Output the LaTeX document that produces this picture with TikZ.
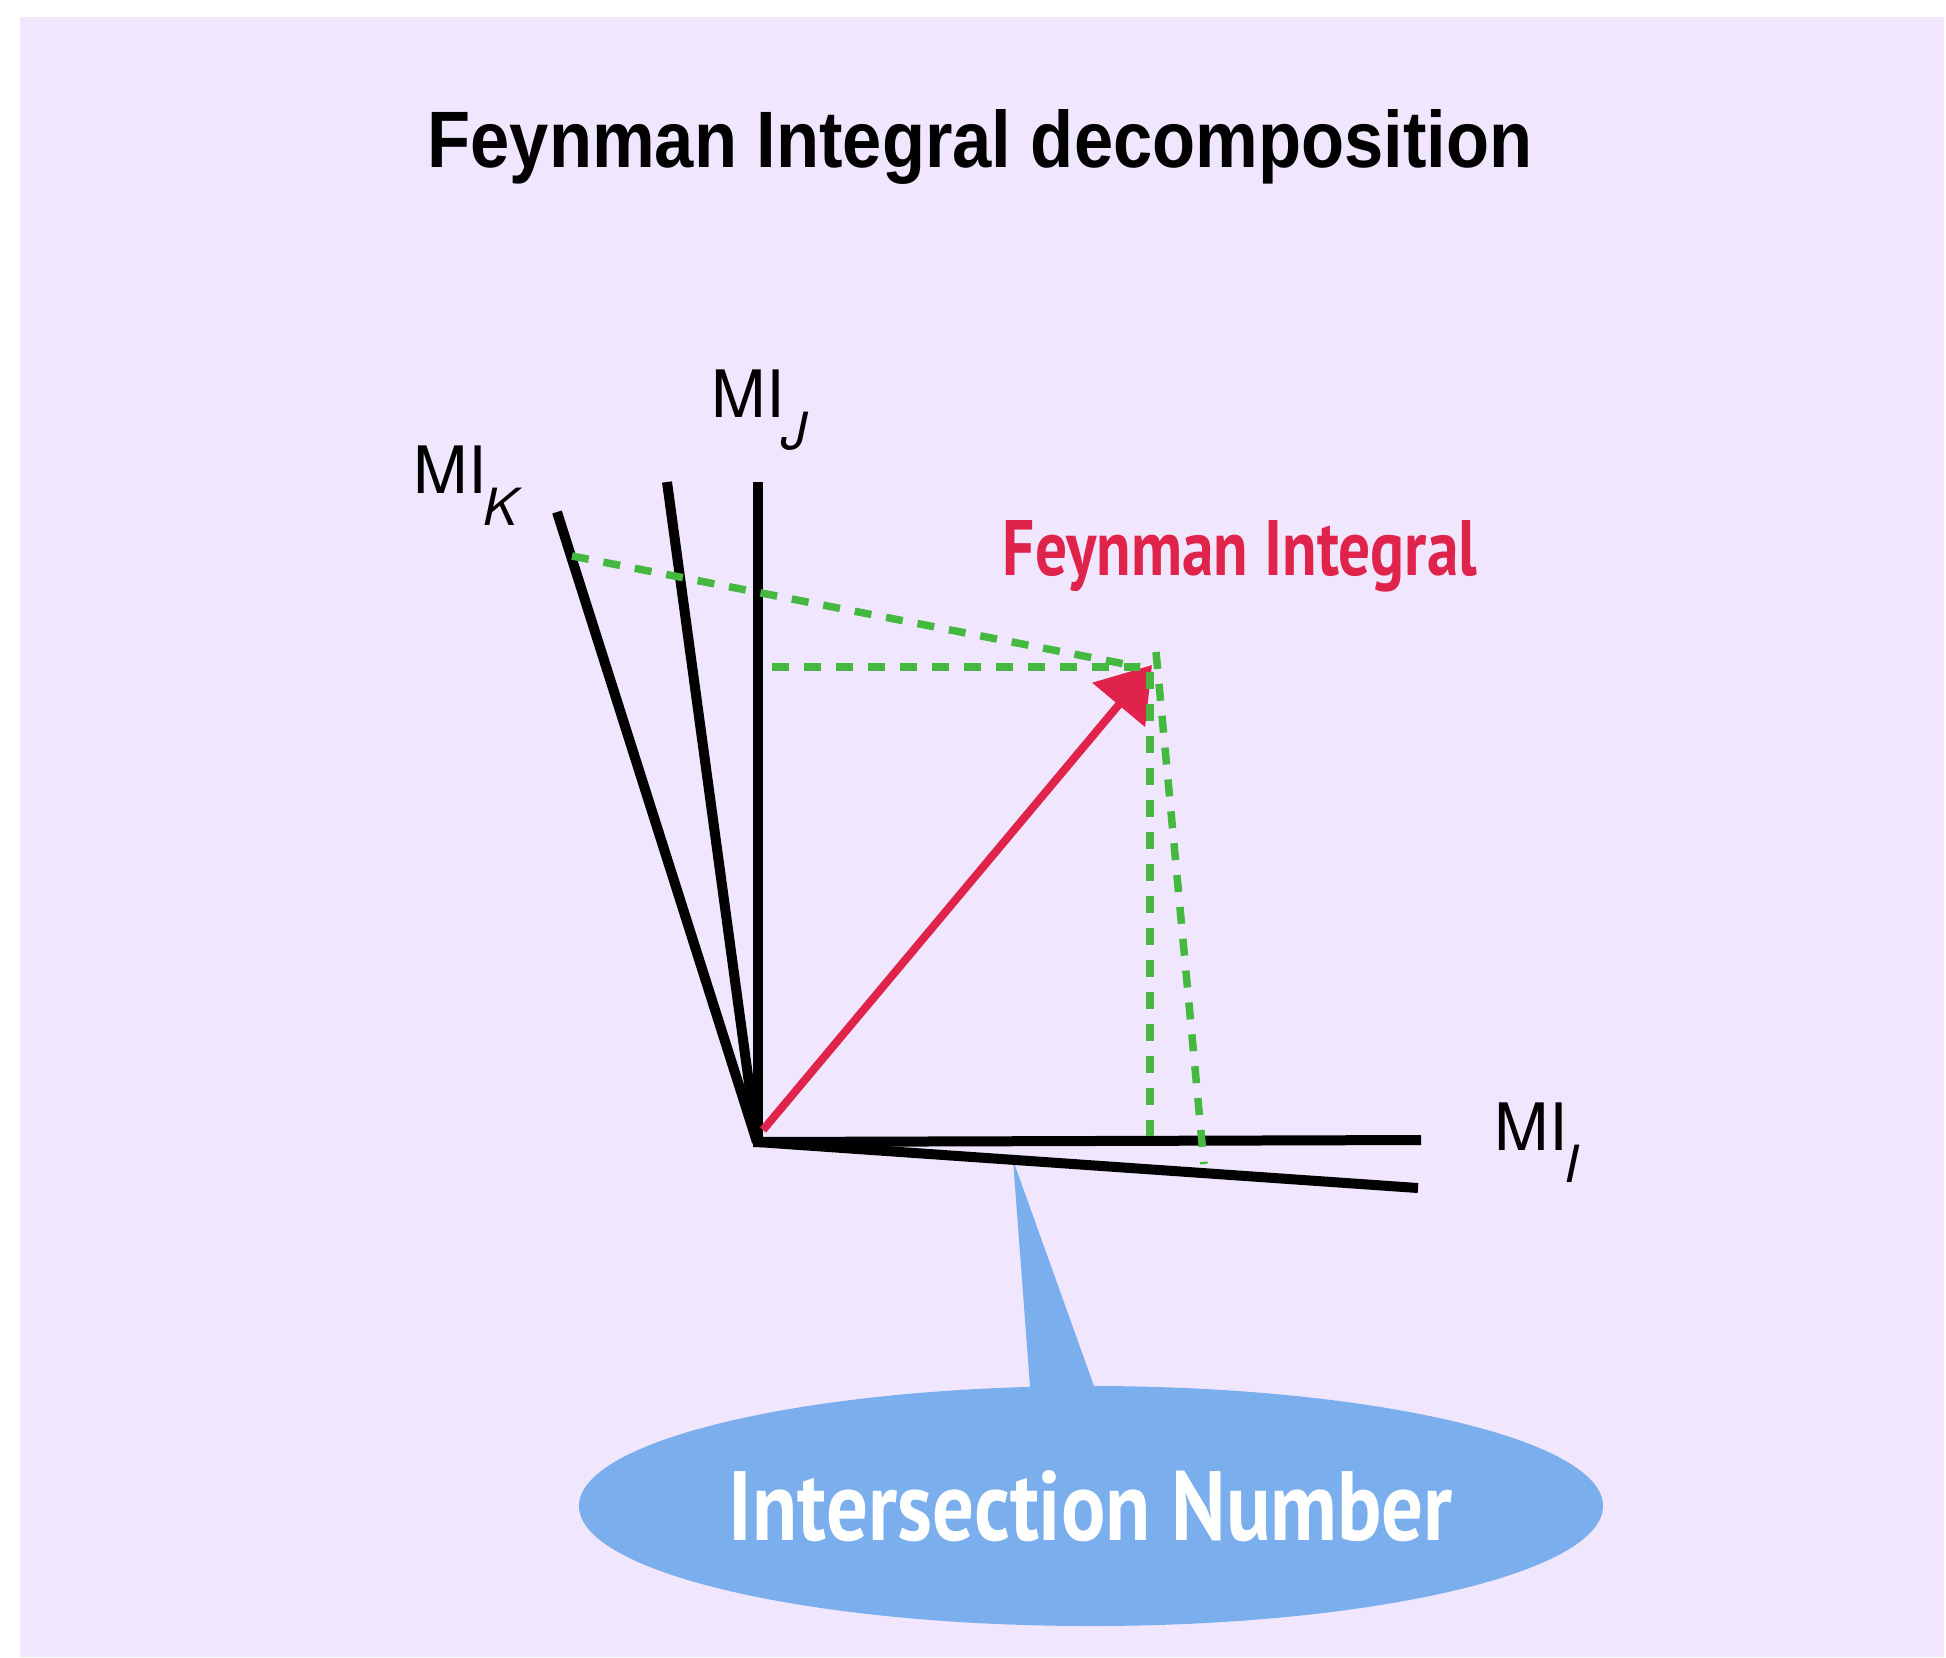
\documentclass[tikz,border=0pt]{standalone}
\usepackage{fontspec}
\setmainfont{TeX Gyre Heros}
\newfontfamily\titlefont{Liberation Sans}
\newfontfamily\tagfont{PT Sans}
\usepackage{tikz}
\usetikzlibrary{arrows.meta,shapes.geometric}

\definecolor{bgpurple}{HTML}{F0E6FE}
\definecolor{fired}{HTML}{E0234A}
\definecolor{projgreen}{HTML}{45B840}
\definecolor{inblue}{HTML}{7BAEEC}

\newcommand{\milab}[1]{MI\kern-0.3mm\raisebox{-3.2mm}{\fontsize{14.6}{16}\selectfont\itshape #1}}

\begin{document}
\begin{tikzpicture}[
  x=0.1mm, y=-0.1mm,
  axisline/.style={draw=black, line width=1mm},
  projline/.style={draw=projgreen, line width=0.75mm, dash pattern=on 1.7mm off 1.5mm},
  fiarrow/.style={draw=fired, line width=0.8mm, -{Triangle[length=5.2mm, width=6.7mm]}},
  milabel/.style={anchor=base west, inner sep=0pt, font=\fontsize{18.6}{20}\selectfont},
  inumber/.style={ellipse, fill=inblue, minimum width=101mm, minimum height=24mm,
    inner sep=0pt, text=white, font=\tagfont\bfseries},
]
\useasboundingbox (0,0) rectangle (1946,1657);
\fill[bgpurple] (20,17) rectangle (1944,1657);

%--- title ---
\node[anchor=base, inner sep=0pt] (title) at (980,167)
  {\resizebox{110.5mm}{5.8mm}{\titlefont\bfseries Feynman Integral decomposition}};

%--- axes end points ---
\coordinate (o)   at (757,1142);
\coordinate (ti)  at (1421,1140);
\coordinate (ti2) at (1418,1188);
\coordinate (tj)  at (758,482);
\coordinate (tj2) at (667,482);
\coordinate (tk)  at (557,512);

%--- callout to intersection number ---
\coordinate (ptip) at (1013,1160);
\coordinate (pl)   at (1031,1400);
\coordinate (pr)   at (1099,1400);
\fill[inblue] (ptip) -- (pl) -- (pr) -- cycle;
\node[inumber] (inum) at (1091,1506)
  {\resizebox{72.4mm}{7mm}{Intersection Number}};

%--- axes ---
\draw[axisline] (o) -- (tk);
\draw[axisline] (o) -- (tj2);
\draw[axisline] ([xshift=0.1mm]o) -- (tj);
\draw[axisline] ([xshift=-0.4mm]o) -- (ti);
\draw[axisline] (o) -- (ti2);

\node[milabel] (lk) at (413,493)  {\milab{K}};
\node[milabel] (lj) at (711,417)  {\milab{J}};
\node[milabel] (li) at (1494,1150) {\milab{I}};

%--- Feynman integral vector ---
\coordinate (fs) at (763,1130);
\coordinate (fi) at (1152,665);
\draw[fiarrow] (fs) -- (fi);
\node[anchor=base, inner sep=0pt, text=fired] (filab) at (1240,575)
  {\resizebox{47.4mm}{5.5mm}{\tagfont\bfseries Feynman Integral}};

%--- projections ---
\coordinate (pk)  at (572,556);
\coordinate (pj)  at (772,667);
\coordinate (pe1) at (1140,667);
\coordinate (pv1) at (1150,672);
\coordinate (pb1) at (1150,1136);
\coordinate (pv2) at (1156,652);
\coordinate (pb2) at (1204,1164);
\draw[projline] (pk) -- (pe1);
\draw[projline] (pj) -- (pe1);
\draw[projline] (pv1) -- (pb1);
\draw[projline] (pv2) -- (pb2);

\end{tikzpicture}
\end{document}
